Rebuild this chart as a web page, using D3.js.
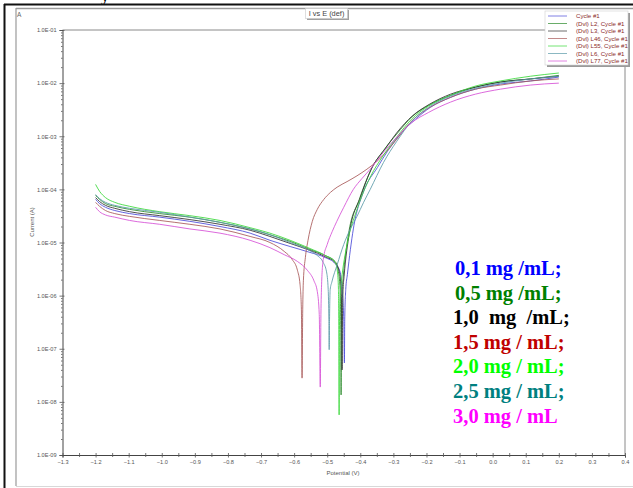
<!DOCTYPE html>
<html>
<head>
<meta charset="utf-8">
<script src="https://cdn.jsdelivr.net/npm/d3@7"></script>
<style>
  html, body { margin: 0; padding: 0; background: #fff; }
  svg { display: block; }
</style>
</head>
<body>
<svg id="chart" width="633" height="488"></svg>
<script>
// Potentiodynamic polarisation (Tafel) curves: potential in V, current in A
const potentialTicks = [-1.3, -1.2, -1.1, -1.0, -0.9, -0.8, -0.7, -0.6, -0.5, -0.4, -0.3, -0.2, -0.1, 0.0, 0.1, 0.2, 0.3, 0.4];
const currentTicks = [1e-1, 1e-2, 1e-3, 1e-4, 1e-5, 1e-6, 1e-7, 1e-8, 1e-9];

const seriesNames = ["Cycle #1", "(Dvl) L2, Cycle #1", "(Dvl) L3, Cycle #1", "(Dvl) L46, Cycle #1",
                     "(Dvl) L55, Cycle #1", "(Dvl) L6, Cycle #1", "(Dvl) L77, Cycle #1"];
const seriesColors = ["#4a4ad8", "#2a8a2a", "#303030", "#a85858", "#3ad83a", "#5a9aa8", "#d650d6"];

const concLabels = ["0,1 mg /mL;", "0,5 mg /mL;", "1,0  mg  /mL;", "1,5 mg / mL;", "2,0 mg / mL;", "2,5 mg / mL;", "3,0 mg / mL"];
const concColors = ["#0000ff", "#008000", "#000000", "#c00000", "#00ff00", "#008080", "#ff00ff"];

// [E (V), I (A)]
const cycle1 = [[-1.200,6.5e-5],[-1.188,5.4e-5],[-1.170,4.6e-5],[-1.142,4.0e-5],[-1.097,3.5e-5],[-1.006,3.0e-5],
  [-0.915,2.5e-5],[-0.824,2.0e-5],[-0.733,1.5e-5],[-0.673,1.1e-5],[-0.612,8.4e-6],[-0.552,6.5e-6],[-0.506,5.2e-6],
  [-0.476,4.0e-6],[-0.461,2.8e-6],[-0.455,1.3e-6],[-0.450,3.5e-7],[-0.448,5.4e-8],[-0.447,3.5e-7],[-0.444,1.3e-6],
  [-0.439,2.5e-6],[-0.421,1.8e-5],[-0.391,8.8e-5],[-0.348,2.6e-4],[-0.318,5.2e-4],[-0.279,1.1e-3],[-0.233,2.1e-3],
  [-0.188,3.5e-3],[-0.127,5.4e-3],[-0.052,7.7e-3],[0.024,9.6e-3],[0.115,1.1e-2],[0.200,1.3e-2]];

const l2 = [[-1.200,7.7e-5],[-1.188,6.5e-5],[-1.170,5.4e-5],[-1.142,4.8e-5],[-1.097,4.2e-5],[-1.006,3.5e-5],
  [-0.915,3.0e-5],[-0.824,2.4e-5],[-0.733,1.8e-5],[-0.673,1.4e-5],[-0.612,1.05e-5],[-0.552,7.4e-6],[-0.506,5.7e-6],
  [-0.476,4.4e-6],[-0.467,3.0e-6],[-0.461,1.3e-6],[-0.459,2.3e-7],[-0.458,1.35e-8],[-0.457,2.3e-7],[-0.455,1.2e-6],
  [-0.452,2.1e-6],[-0.436,1.4e-5],[-0.403,6.5e-5],[-0.367,2.4e-4],[-0.327,5.7e-4],[-0.290,1.1e-3],[-0.245,2.3e-3],
  [-0.194,3.8e-3],[-0.127,5.9e-3],[-0.052,8.4e-3],[0.024,1.05e-2],[0.115,1.2e-2],[0.200,1.4e-2]];

const l3 = [[-1.200,7.0e-5],[-1.188,5.9e-5],[-1.170,5.0e-5],[-1.142,4.4e-5],[-1.097,3.8e-5],[-1.006,3.2e-5],
  [-0.915,2.7e-5],[-0.824,2.2e-5],[-0.733,1.7e-5],[-0.673,1.3e-5],[-0.612,9.6e-6],[-0.552,7.1e-6],[-0.506,5.4e-6],
  [-0.476,4.2e-6],[-0.464,2.9e-6],[-0.458,1.3e-6],[-0.456,2.8e-7],[-0.455,4.0e-8],[-0.454,2.8e-7],[-0.452,1.3e-6],
  [-0.449,2.3e-6],[-0.433,1.5e-5],[-0.400,7.0e-5],[-0.364,2.6e-4],[-0.324,5.9e-4],[-0.288,1.2e-3],[-0.243,2.4e-3],
  [-0.191,4.0e-3],[-0.127,6.2e-3],[-0.052,8.4e-3],[0.024,1.05e-2],[0.115,1.2e-2],[0.200,1.35e-2]];

const l46 = [[-1.200,5.7e-5],[-1.188,4.8e-5],[-1.170,4.0e-5],[-1.142,3.5e-5],[-1.097,3.1e-5],[-1.006,2.6e-5],
  [-0.915,2.2e-5],[-0.824,1.8e-5],[-0.733,1.3e-5],[-0.673,1.0e-5],[-0.630,6.8e-6],[-0.606,4.8e-6],[-0.590,3.0e-6],
  [-0.582,1.6e-6],[-0.578,5.4e-7],[-0.576,2.8e-8],[-0.574,5.4e-7],[-0.572,1.9e-6],[-0.566,5.2e-6],[-0.558,1.1e-5],
  [-0.545,2.5e-5],[-0.530,4.2e-5],[-0.510,6.5e-5],[-0.490,8.8e-5],[-0.470,1.1e-4],[-0.440,1.4e-4],[-0.410,1.8e-4],
  [-0.380,2.4e-4],[-0.349,3.4e-4],[-0.320,5.2e-4],[-0.290,8.8e-4],[-0.250,1.8e-3],[-0.200,3.2e-3],[-0.127,5.4e-3],
  [-0.052,7.7e-3],[0.024,9.2e-3],[0.115,1.1e-2],[0.200,1.2e-2]];

const l55 = [[-1.200,1.24e-4],[-1.188,9.2e-5],[-1.170,7.0e-5],[-1.142,5.7e-5],[-1.097,4.8e-5],[-1.006,3.8e-5],
  [-0.915,3.2e-5],[-0.824,2.6e-5],[-0.733,1.9e-5],[-0.673,1.5e-5],[-0.612,1.1e-5],[-0.552,7.7e-6],[-0.506,5.7e-6],
  [-0.476,4.2e-6],[-0.469,2.8e-6],[-0.466,1.3e-6],[-0.465,2.3e-7],[-0.464,5.7e-9],[-0.463,2.3e-7],[-0.461,1.05e-6],
  [-0.457,1.9e-6],[-0.440,9.2e-6],[-0.410,4.2e-5],[-0.370,1.7e-4],[-0.330,4.4e-4],[-0.290,9.6e-4],[-0.245,2.1e-3],
  [-0.194,3.7e-3],[-0.127,5.9e-3],[-0.052,8.8e-3],[0.024,1.1e-2],[0.115,1.35e-2],[0.200,1.55e-2]];

const l6 = [[-1.200,8.0e-5],[-1.188,6.7e-5],[-1.170,5.7e-5],[-1.142,5.0e-5],[-1.097,4.4e-5],[-1.006,3.7e-5],
  [-0.915,3.0e-5],[-0.824,2.4e-5],[-0.733,1.8e-5],[-0.673,1.4e-5],[-0.612,1.0e-5],[-0.560,7.4e-6],[-0.530,5.7e-6],
  [-0.512,4.2e-6],[-0.502,2.8e-6],[-0.497,1.3e-6],[-0.495,3.5e-7],[-0.494,9.6e-8],[-0.493,3.5e-7],[-0.491,1.3e-6],
  [-0.486,1.8e-6],[-0.470,3.8e-6],[-0.450,9.2e-6],[-0.430,1.8e-5],[-0.410,3.1e-5],[-0.390,5.7e-5],[-0.370,1.0e-4],
  [-0.330,3.2e-4],[-0.290,8.0e-4],[-0.245,1.9e-3],[-0.194,3.5e-3],[-0.127,5.7e-3],[-0.052,8.0e-3],[0.024,1.0e-2],
  [0.115,1.2e-2],[0.200,1.35e-2]];

const l77 = [[-1.200,4.6e-5],[-1.188,3.8e-5],[-1.170,3.3e-5],[-1.142,3.0e-5],[-1.097,2.6e-5],[-1.006,2.2e-5],
  [-0.915,1.8e-5],[-0.824,1.5e-5],[-0.733,1.1e-5],[-0.673,8.0e-6],[-0.630,5.9e-6],[-0.590,4.4e-6],[-0.560,3.0e-6],
  [-0.540,1.9e-6],[-0.530,1.2e-6],[-0.524,4.4e-7],[-0.521,1.9e-8],[-0.519,4.4e-7],[-0.517,1.6e-6],[-0.512,4.8e-6],
  [-0.500,9.2e-6],[-0.485,1.6e-5],[-0.471,2.5e-5],[-0.450,4.6e-5],[-0.421,1.0e-4],[-0.395,1.6e-4],[-0.370,2.4e-4],
  [-0.330,5.0e-4],[-0.290,9.6e-4],[-0.245,1.8e-3],[-0.194,2.8e-3],[-0.127,4.4e-3],[-0.052,6.2e-3],[0.024,7.7e-3],
  [0.115,9.2e-3],[0.200,1.0e-2]];

const seriesData = [cycle1, l2, l3, l46, l55, l6, l77];

const svg = d3.select("#chart");
const W = 633, H = 488;

svg.append("rect").attr("width", W).attr("height", H).attr("fill", "#fff");

// Fragment of the caption line above the figure
svg.append("text").attr("x", 101).attr("y", 0.5)
  .attr("font-family", "Liberation Serif").attr("font-size", 16).attr("font-weight", "bold")
  .attr("fill", "#000").text("y");

// Page frame and inner panel
svg.append("line").attr("x1", 4.5).attr("x2", 4.5).attr("y1", 4).attr("y2", H).attr("stroke", "#111").attr("stroke-width", 2);
svg.append("line").attr("x1", 4).attr("x2", W).attr("y1", 4.5).attr("y2", 4.5).attr("stroke", "#111").attr("stroke-width", 2);
svg.append("line").attr("x1", 16).attr("x2", W).attr("y1", 8.5).attr("y2", 8.5).attr("stroke", "#9a9a9a").attr("stroke-width", 1.5);
svg.append("line").attr("x1", 16).attr("x2", 16).attr("y1", 8).attr("y2", 486).attr("stroke", "#9a9a9a").attr("stroke-width", 1.2);
svg.append("line").attr("x1", 16).attr("x2", W).attr("y1", 486.5).attr("y2", 486.5).attr("stroke", "#d8d8d8").attr("stroke-width", 1);

svg.append("text").attr("x", 17).attr("y", 16.5)
  .attr("font-family", "Liberation Sans").attr("font-size", 6.5).attr("fill", "#666").text("A");

// Scales
const x = d3.scaleLinear().domain([-1.3, 0.4]).range([62.5, 625]);
const y = d3.scaleLog().domain([1e-9, 1e-1]).range([455, 30]);

const axisColor = "#555";
const labelFont = "Liberation Sans";

// Plot frame (top and right)
svg.append("line").attr("x1", x(-1.3)).attr("x2", x(0.4)).attr("y1", y(1e-1)).attr("y2", y(1e-1))
  .attr("stroke", "#8a8a8a").attr("stroke-width", 1);
svg.append("line").attr("x1", x(0.4)).attr("x2", x(0.4)).attr("y1", y(1e-1)).attr("y2", y(1e-9))
  .attr("stroke", "#8a8a8a").attr("stroke-width", 1);

// Y axis (log) with decade labels
const fmtCurrent = d => {
  const e = Math.round(Math.log10(d));
  return "1.0E-" + String(-e).padStart(2, "0");
};
svg.append("g").attr("transform", `translate(${x(-1.3)},0)`)
  .call(d3.axisLeft(y).tickValues(currentTicks).tickFormat(fmtCurrent).tickSize(3).tickPadding(3));
const minorCurrent = [];
currentTicks.slice(1).forEach(dec => { for (let m = 2; m <= 9; m++) minorCurrent.push(dec * m); });
svg.append("g").attr("transform", `translate(${x(-1.3)},0)`)
  .call(d3.axisLeft(y).tickValues(minorCurrent).tickFormat("").tickSize(1.5))
  .call(g => g.select(".domain").remove());
svg.append("g").attr("transform", `translate(${x(-1.3)},0)`)
  .call(d3.axisRight(y).tickValues(currentTicks).tickFormat("").tickSize(2))
  .call(g => g.select(".domain").remove());

// X axis with 0.1 V labels and 0.05 V ticks
svg.append("g").attr("transform", `translate(0,${y(1e-9)})`)
  .call(d3.axisBottom(x).tickValues(potentialTicks).tickFormat(d3.format(".1f")).tickSize(2.5).tickPadding(3));
const minorPotential = potentialTicks.slice(0, -1).map(v => v + 0.05);
svg.append("g").attr("transform", `translate(0,${y(1e-9)})`)
  .call(d3.axisBottom(x).tickValues(minorPotential).tickFormat("").tickSize(2))
  .call(g => g.select(".domain").remove());
svg.append("g").attr("transform", `translate(0,${y(1e-9)})`)
  .call(d3.axisTop(x).tickValues(potentialTicks.concat(minorPotential)).tickFormat("").tickSize(2))
  .call(g => g.select(".domain").remove());

svg.selectAll(".domain").attr("stroke", "#444").attr("stroke-width", 1);
svg.selectAll(".tick line").attr("stroke", axisColor).attr("stroke-width", 0.8);
svg.selectAll(".tick text").attr("font-family", labelFont).attr("font-size", 5.6).attr("fill", "#555");

// Axis titles
svg.append("text").attr("transform", "translate(34,222) rotate(-90)")
  .attr("text-anchor", "middle").attr("font-family", labelFont).attr("font-size", 6).attr("fill", "#555")
  .text("Current (A)");
svg.append("text").attr("x", 343).attr("y", 475)
  .attr("text-anchor", "middle").attr("font-family", labelFont).attr("font-size", 6).attr("fill", "#555")
  .text("Potential (V)");

// Title box
const titleG = svg.append("g");
titleG.append("rect").attr("x", 307).attr("y", 10).attr("width", 42).attr("height", 10).attr("fill", "#a0a0a0");
titleG.append("rect").attr("x", 305.5).attr("y", 8.5).attr("width", 42).attr("height", 10)
  .attr("fill", "#fff").attr("stroke", "#c8c8c8").attr("stroke-width", 0.6);
titleG.append("text").attr("x", 326.5).attr("y", 16.3).attr("text-anchor", "middle")
  .attr("font-family", labelFont).attr("font-size", 7.4).attr("fill", "#444").text("I vs E (def)");

// Curves
const line = d3.line()
  .x(d => x(d[0]))
  .y(d => y(d[1]))
  .curve(d3.curveMonotoneX);

const curves = svg.append("g").attr("fill", "none");
seriesData.forEach((data, i) => {
  curves.append("path")
    .attr("d", line(data))
    .attr("stroke", seriesColors[i])
    .attr("stroke-width", 1)
    .attr("stroke-opacity", 0.85);
});

// Legend
const lg = svg.append("g");
lg.append("rect").attr("x", 547).attr("y", 13).attr("width", 83).attr("height", 54).attr("fill", "#9a9a9a");
lg.append("rect").attr("x", 545).attr("y", 11).attr("width", 83).attr("height", 54)
  .attr("fill", "#fff").attr("stroke", "#cfcfcf").attr("stroke-width", 0.6);
seriesNames.forEach((name, i) => {
  const yy = 16 + i * 7.5;
  lg.append("line").attr("x1", 548).attr("x2", 567).attr("y1", yy).attr("y2", yy)
    .attr("stroke", seriesColors[i]).attr("stroke-width", 1).attr("stroke-opacity", 0.7);
  lg.append("text").attr("x", 576).attr("y", yy + 2)
    .attr("font-family", labelFont).attr("font-size", 6.1).attr("fill", "#8b2a2a").text(name);
});

// Concentration annotations
const conc = svg.append("g");
concLabels.forEach((t, i) => {
  conc.append("text")
    .attr("x", i < 2 ? 455 : 453)
    .attr("y", 275 + i * 24.6)
    .attr("font-family", "Liberation Serif")
    .attr("font-weight", "bold")
    .attr("font-size", 20.5)
    .attr("fill", concColors[i])
    .style("white-space", "pre")
    .text(t);
});
</script>
</body>
</html>
